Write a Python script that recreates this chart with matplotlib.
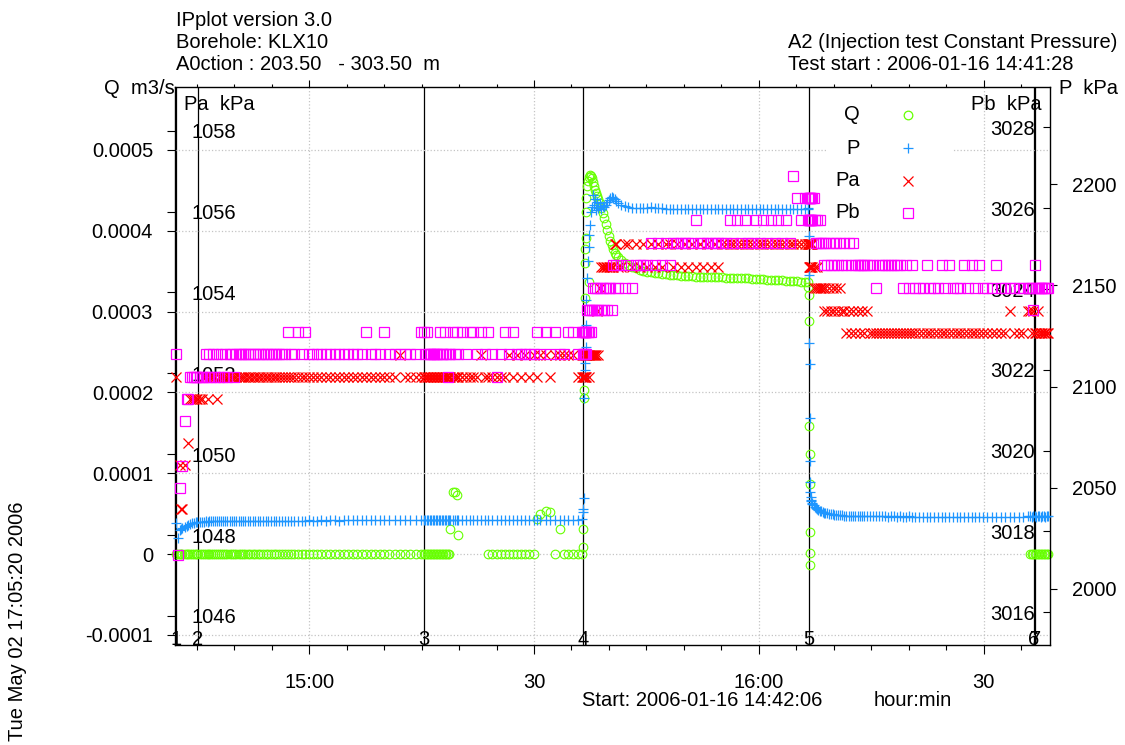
import matplotlib
matplotlib.use("Agg")
import matplotlib.pyplot as plt
import matplotlib.transforms as mtransforms
from matplotlib.lines import Line2D
from matplotlib.patches import Rectangle

nan = float("nan")

# ---------------- data (time = minutes after 2006-01-16 14:42:06) ----------------
x_major = [17.9, 47.9, 77.9, 107.9]
x_labels = ["15:00", "30", "16:00", "30"]
q_ticks = [-0.0001, 0.0, 0.0001, 0.0002, 0.0003, 0.0004, 0.0005]
q_labels = ["-0.0001", "0", "0.0001", "0.0002", "0.0003", "0.0004", "0.0005"]
pa_ticks = [1046, 1048, 1050, 1052, 1054, 1056, 1058]
pb_ticks = [3016, 3018, 3020, 3022, 3024, 3026, 3028]
p_ticks = [2000, 2050, 2100, 2150, 2200]
events_t = [0.1, 3.07, 33.2, 54.45, 84.6, 114.56, 114.78]
events_lab = ["1", "2", "3", "4", "5", "6", "7"]

# phase A (start -> event 2)
t_a = [0.1, 0.4, 0.67, 0.85, 1.0, 1.33, 1.55, 1.73, 2.0, 2.25, 2.5, 2.75, 3.0]
q_a = [0, 0, 0, 0, 0, 0, 0, 0, 0, 0, 0, 0, 0]
p_a = [2032.5, 2025.1, 2029.0, 2029.8, 2030.2, 2030.5, 2031.2, 2031.6, 2032.0, 2032.4, 2032.7, 2033.0, 2033.1]
pa_a = [1051.91, nan, 1049.74, 1048.64, 1048.64, 1049.74, nan, 1050.28, 1051.37, 1051.37, 1051.37, 1051.37, 1051.37]
pb_a = [3022.40, 3017.42, 3019.08, nan, 3019.62, 3020.74, 3021.29, 3021.29, 3021.83, 3021.83, 3021.83, 3021.83, 3021.83]

# phase B (event 2 -> event 3)
t_b = [3.35, 3.6, 3.85, 4.1, 4.35, 4.6, 4.85, 5.1, 5.35, 5.6,
       5.85, 6.1, 6.4, 6.7, 7.0, 7.3, 7.6, 7.9, 8.2, 8.5,
       8.8, 9.1, 9.4, 9.7, 10.0, 10.35, 10.7, 11.05, 11.4, 11.75,
       12.1, 12.45, 12.8, 13.15, 13.5, 13.9, 14.3, 14.7, 15.1, 15.5,
       15.9, 16.4, 16.9, 17.4, 17.9, 18.4, 18.9, 19.5, 20.1, 20.7,
       21.3, 21.9, 22.5, 23.1, 23.7, 24.3, 24.9, 25.5, 26.1, 26.7,
       27.3, 27.9, 28.6, 29.3, 30.0, 30.7, 31.4, 32.1, 32.8]
q_b = [0, 0, 0, 0, 0, 0, 0, 0, 0, 0,
       0, 0, 0, 0, 0, 0, 0, 0, 0, 0,
       0, 0, 0, 0, 0, 0, 0, 0, 0, 0,
       0, 0, 0, 0, 0, 0, 0, 0, 0, 0,
       0, 0, 0, 0, 0, 0, 0, 0, 0, 0,
       0, 0, 0, 0, 0, 0, 0, 0, 0, 0,
       0, 0, 0, 0, 0, 0, 0, 0, 0]
p_b = [2033.1, 2033.2, 2033.2, 2033.3, 2033.2, 2033.3, 2033.3, 2033.3, 2033.4, 2033.3,
       2033.4, 2033.4, 2033.4, 2033.4, 2033.5, 2033.4, 2033.5, 2033.5, 2033.4, 2033.5,
       2033.5, 2033.5, 2033.6, 2033.5, 2033.5, 2033.6, 2033.5, 2033.6, 2033.6, 2033.5,
       2033.6, 2033.6, 2033.6, 2033.7, 2033.6, 2033.6, 2033.7, 2033.6, 2033.7, 2033.7,
       2033.6, 2033.7, 2033.7, 2033.7, 2033.8, 2033.7, 2033.7, 2033.8, 2033.7, 2033.8,
       2033.8, 2033.7, 2033.8, 2033.8, 2033.9, 2033.8, 2033.8, 2033.9, 2033.8, 2034.0,
       2033.9, 2033.9, 2034.0, 2033.9, 2034.0, 2034.0, 2033.9, 2034.0, 2034.0]
pa_b = [1051.37, 1051.37, 1051.91, 1051.91, 1051.37, 1051.91, 1051.91, 1051.91, 1051.91, 1051.37,
        1051.91, 1051.91, 1051.91, 1051.91, 1051.91, 1051.91, 1051.91, 1051.91, 1051.91, 1051.91,
        1051.91, 1051.91, 1051.91, 1051.91, 1051.91, 1051.91, 1051.91, 1051.91, 1051.91, 1051.91,
        1051.91, 1051.91, 1051.91, 1051.91, 1051.91, 1051.91, 1051.91, 1051.91, 1051.91, 1051.91,
        1051.91, 1051.91, 1051.91, 1051.91, 1051.91, 1051.91, 1051.91, 1051.91, 1051.91, 1051.91,
        1051.91, 1051.91, 1051.91, 1051.91, 1051.91, 1051.91, 1051.91, 1051.91, 1051.91, 1051.91,
        1051.91, 1051.91, 1051.91, 1051.91, 1052.46, 1051.91, 1051.91, 1051.91, 1051.91]
pb_b = [3021.83, 3021.83, 3021.83, 3022.40, 3021.83, 3022.40, 3021.83, 3022.40, 3021.83, 3022.40,
        3021.83, 3022.40, 3021.83, 3022.40, 3021.83, 3022.40, 3022.40, 3021.83, 3022.40, 3022.40,
        3022.40, 3022.40, 3022.40, 3022.40, 3022.40, 3022.40, 3022.40, 3022.40, 3022.40, 3022.40,
        3022.40, 3022.40, 3022.40, 3022.40, 3022.40, 3022.40, 3022.40, 3022.40, 3022.93, 3022.40,
        3022.40, 3022.93, 3022.40, 3022.93, 3022.40, 3022.40, 3022.40, 3022.40, 3022.40, 3022.40,
        3022.40, 3022.40, 3022.40, 3022.40, 3022.40, 3022.40, 3022.40, 3022.93, 3022.40, 3022.40,
        3022.40, 3022.93, 3022.40, 3022.40, 3022.40, 3022.40, 3022.40, 3022.40, 3022.93]

# phase C (event 3 -> event 4)
t_c = [33.2, 33.4, 33.6, 33.8, 34.0, 34.2, 34.4, 34.6, 34.8, 35.0,
       35.2, 35.4, 35.6, 35.8, 36.0, 36.2, 36.4, 36.6, 36.75, 37.1,
       37.35, 37.6, 37.8, 38.3, 38.8, 39.3, 39.8, 40.3, 40.8, 41.3,
       41.8, 42.35, 42.9, 43.45, 44.0, 44.55, 45.1, 45.65, 46.2, 46.75,
       47.3, 47.85, 48.3, 48.75, 49.45, 50.05, 50.7, 51.35, 51.85, 52.5,
       53.15, 53.8, 54.3]
q_c = [0, 0, 0, 0, 0, 0, 0, 0, 0, 0,
       0, 0, 0, 0, 0, 0, 0, 0, 3.1e-5, 7.7e-5,
       7.7e-5, 7.32e-5, 2.4e-5, nan, nan, nan, nan, nan, nan, nan,
       0, 0, 0, 0, 0, 0, 0, 0, 0, 0,
       0, 0, 4.32e-5, 4.97e-5, 5.38e-5, 5.26e-5, 0, 3.08e-5, 0, 0,
       0, 0, 0]
p_c = [2033.8, 2033.9, 2033.8, 2033.8, 2033.9, 2033.8, 2033.9, 2033.8, 2033.8, 2033.9,
       2033.8, 2033.9, 2033.8, 2033.8, 2033.9, 2033.8, 2033.9, 2033.8, 2033.8, 2033.9,
       2033.8, 2033.8, 2033.9, 2033.8, 2033.9, 2033.9, 2033.8, 2033.9, 2033.9, 2033.8,
       2033.9, 2033.9, 2033.8, 2033.9, 2033.9, 2034.0, 2033.9, 2033.9, 2034.0, 2033.9,
       2034.0, 2033.9, 2034.0, 2033.9, 2034.0, 2034.0, 2034.0, 2034.1, 2034.0, 2034.1,
       2034.1, 2034.2, 2034.3]
pa_c = [1051.91, 1051.91, 1051.91, 1051.91, 1051.91, 1051.91, 1051.91, 1051.91, 1051.91, 1051.91,
        1051.91, 1051.91, 1051.91, 1051.91, 1051.91, 1051.91, 1051.91, 1051.91, 1051.91, 1051.91,
        1051.91, 1051.91, 1051.91, 1051.91, 1051.91, 1051.91, 1051.91, 1051.91, 1052.46, 1051.91,
        1051.91, 1051.91, 1051.91, 1051.91, 1051.91, 1052.46, 1051.91, 1052.46, 1051.91, 1052.46,
        1051.91, 1052.46, 1051.91, 1052.46, 1052.46, 1051.91, 1052.46, 1052.46, 1052.46, 1052.46,
        1052.46, 1051.91, 1051.91]
pb_c = [3022.93, 3022.40, 3022.93, 3022.40, 3022.40, 3022.40, 3022.40, 3022.40, 3022.40, 3022.40,
        3022.40, 3022.93, 3022.40, 3022.40, 3022.93, 3022.40, 3021.83, 3022.40, 3022.40, 3022.93,
        3022.40, 3022.93, 3022.40, 3022.93, 3022.40, 3022.93, 3022.93, 3022.40, 3022.93, 3022.40,
        3022.93, 3022.40, 3021.83, 3022.40, 3022.93, 3022.40, 3022.93, 3022.40, 3022.40, 3022.40,
        3022.40, 3022.40, 3022.93, 3022.40, 3022.93, 3022.40, 3022.93, 3022.40, 3022.40, 3022.93,
        3022.93, 3022.40, 3022.93]

# phase D1 (injection start transient)
t_d1 = [54.45, 54.5, 54.55, 54.6, 54.65, 54.7, 54.75, 54.8, 54.85, 54.9,
        55.0, 55.1, 55.2, 55.3, 55.4, 55.5, 55.6, 55.75, 55.9, 56.05,
        56.2, 56.35, 56.5, 56.7, 56.9, 57.1, 57.3, 57.5, 57.7, 57.9,
        58.1, 58.3, 58.5, 58.7, 58.9, 59.1]
q_d1 = [8.9e-6, 3.1e-5, 1.93e-4, 2.03e-4, 3.17e-4, 3.60e-4, 3.78e-4, 3.91e-4, 4.23e-4, 4.41e-4,
        4.55e-4, 4.62e-4, 3.37e-4, 4.66e-4, 4.69e-4, 4.68e-4, 4.65e-4, 4.60e-4, 4.55e-4, 4.51e-4,
        4.47e-4, 4.43e-4, 4.39e-4, 4.34e-4, 4.28e-4, 4.22e-4, 4.16e-4, 4.09e-4, 4.01e-4, 3.94e-4,
        3.88e-4, 3.82e-4, 3.77e-4, 3.73e-4, 3.70e-4, 3.67e-4]
p_d1 = [2037.9, 2039.4, 2044.9, 2094.3, 2111.6, 2104.7, 2108.0, 2119.5, 2130.4, 2142.7,
        2153.7, 2162.0, 2169.0, 2174.9, 2179.8, 2186.3, 2189.0, 2194.7, 2190.0, 2192.5,
        2187.5, 2191.0, 2188.5, 2190.5, 2188.0, 2189.5, 2189.0, 2190.0, 2191.0, 2192.0,
        2193.0, 2193.7, 2193.2, 2192.5, 2191.5, 2190.5]
pa_d1 = [1051.91, 1052.46, 1051.91, 1052.46, 1051.91, 1052.46, 1051.91, 1052.46, 1052.46, 1051.91,
         1052.46, 1052.46, 1051.91, 1052.46, 1052.46, 1052.46, 1052.46, 1052.46, 1052.46, 1052.46,
         1052.46, 1053.55, 1052.46, 1054.10, 1054.64, 1054.64, 1054.64, 1054.64, 1054.64, 1054.64,
         1054.64, 1054.64, 1054.64, 1055.19, 1055.19, 1054.64]
pb_d1 = [3022.93, 3022.40, 3022.93, 3022.40, 3022.93, 3022.93, 3022.40, 3022.93, 3022.93, 3022.40,
         3023.48, 3022.93, 3023.48, 3022.93, 3023.48, 3022.93, 3023.48, 3024.03, 3023.48, 3024.03,
         3023.48, 3024.03, 3023.48, 3024.03, 3023.48, 3024.03, 3023.48, 3024.03, 3023.48, 3024.03,
         3024.03, 3023.48, 3024.60, 3024.03, 3024.60, 3024.03]

# phase D2 (constant pressure injection)
t_d2 = [59.5, 60.0, 60.5, 61.0, 61.5, 62.0, 62.5, 63.0, 63.5, 64.0,
        64.5, 65.0, 65.5, 66.0, 66.5, 67.0, 67.5, 68.0, 68.5, 69.0,
        69.5, 70.0, 70.5, 71.0, 71.5, 72.0, 72.5, 73.0, 73.5, 74.0,
        74.5, 75.0, 75.5, 76.0, 76.5, 77.0, 77.5, 78.0, 78.5, 79.0,
        79.5, 80.0, 80.5, 81.0, 81.5, 82.0, 82.5, 83.0, 83.5, 84.0,
        84.4]
q_d2 = [3.64e-4, 3.60e-4, 3.575e-4, 3.555e-4, 3.535e-4, 3.515e-4, 3.505e-4, 3.496e-4, 3.488e-4, 3.481e-4,
        3.474e-4, 3.468e-4, 3.462e-4, 3.457e-4, 3.452e-4, 3.448e-4, 3.444e-4, 3.441e-4, 3.438e-4, 3.436e-4,
        3.434e-4, 3.432e-4, 3.431e-4, 3.429e-4, 3.428e-4, 3.426e-4, 3.425e-4, 3.423e-4, 3.422e-4, 3.421e-4,
        3.419e-4, 3.418e-4, 3.416e-4, 3.413e-4, 3.410e-4, 3.407e-4, 3.404e-4, 3.401e-4, 3.398e-4, 3.396e-4,
        3.394e-4, 3.391e-4, 3.389e-4, 3.386e-4, 3.383e-4, 3.380e-4, 3.378e-4, 3.375e-4, 3.372e-4, 3.369e-4,
        3.366e-4]
p_d2 = [2189.8, 2189.2, 2188.8, 2188.5, 2188.3, 2188.2, 2188.1, 2188.3, 2188.6, 2188.5,
        2188.3, 2188.1, 2188.0, 2188.0, 2187.9, 2187.9, 2188.0, 2187.8, 2187.9, 2187.8,
        2187.8, 2187.9, 2187.8, 2187.7, 2187.8, 2187.7, 2187.7, 2187.8, 2187.7, 2187.7,
        2187.6, 2187.7, 2187.7, 2187.6, 2187.7, 2187.6, 2187.6, 2187.7, 2187.6, 2187.6,
        2187.7, 2187.6, 2187.6, 2187.7, 2187.7, 2187.8, 2187.8, 2187.9, 2188.0, 2188.0,
        2188.1]
pa_d2 = [1054.64, 1055.19, 1055.19, 1054.64, 1055.19, 1054.64, 1055.19, 1054.64, 1055.19, 1054.64,
         1055.19, 1054.64, 1055.19, 1055.19, 1054.64, 1055.19, 1054.64, 1055.19, 1054.64, 1055.19,
         1054.64, 1055.19, 1054.64, 1055.19, 1054.64, 1055.19, 1054.64, 1055.19, 1055.19, 1055.19,
         1055.19, 1055.19, 1055.19, 1055.19, 1055.19, 1055.19, 1055.19, 1055.19, 1055.19, 1055.19,
         1055.19, 1055.19, 1055.19, 1055.19, 1055.19, 1055.19, 1055.19, 1055.19, 1055.19, 1055.19,
         1055.19]
pb_d2 = [3024.60, 3024.03, 3024.60, 3024.03, 3024.60, 3024.60, 3024.60, 3024.60, 3025.14, 3024.60,
         3025.14, 3024.60, 3025.14, 3024.60, 3025.14, 3025.14, 3025.14, 3025.14, 3025.14, 3025.14,
         3025.70, 3025.14, 3025.14, 3025.14, 3025.14, 3025.14, 3025.14, 3025.14, 3025.14, 3025.70,
         3025.14, 3025.70, 3025.14, 3025.70, 3025.14, 3025.14, 3025.70, 3025.14, 3025.70, 3025.14,
         3025.70, 3025.14, 3025.70, 3025.14, 3025.70, 3025.14, 3026.80, 3026.25, 3025.70, 3026.25,
         3025.70]

# phase E1 (injection stop transient)
t_e1 = [84.5, 84.55, 84.6, 84.65, 84.7, 84.72, 84.74, 84.76, 84.78]
q_e1 = [3.31e-4, 3.21e-4, 2.88e-4, 1.59e-4, 1.24e-4, 8.68e-5, 2.75e-5, 1.5e-6, -1.34e-5]
p_e1 = [2187.7, 2174.4, 2155.1, 2121.5, 2111.1, 2084.4, 2063.2, 2052.8, 2047.8]
pa_e1 = [1055.19, 1055.19, 1054.64, 1055.19, 1054.64, 1054.64, 1055.19, 1054.64, 1055.19]
pb_e1 = [3026.25, 3025.70, 3026.25, 3025.70, 3026.25, 3025.70, 3026.25, 3025.70, 3026.25]

# phase E2 (recovery, no flow logged)
t_e2 = [84.8, 84.85, 84.9, 84.95, 85.05, 85.2, 85.35, 85.5, 85.65, 85.8,
        86.0, 86.2, 86.4, 86.6, 86.8, 87.0, 87.25, 87.5, 87.75, 88.0,
        88.25, 88.5, 88.75, 89.0, 89.3, 89.6, 89.9, 90.2, 90.5, 90.8,
        91.1, 91.4, 91.7, 92.0, 92.4, 92.8, 93.2, 93.6, 94.0, 94.4,
        94.8, 95.2, 95.6, 96.0, 96.4, 96.8, 97.2, 97.6, 98.0, 98.4,
        98.8, 99.3, 99.8, 100.3, 100.8, 101.3, 101.8, 102.3, 102.8, 103.3,
        103.8, 104.3, 104.8, 105.3, 105.8, 106.3, 106.8, 107.3, 107.8, 108.4,
        109.0, 109.6, 110.2, 110.8, 111.4, 112.0, 112.6, 113.2, 113.8]
p_e2 = [2045.4, 2044.0, 2043.2, 2042.6, 2042.0, 2041.2, 2040.6, 2040.0, 2039.5, 2039.1,
        2038.7, 2038.3, 2038.0, 2037.7, 2037.5,
        2037.3, 2037.1, 2036.9, 2036.8, 2036.7, 2036.6, 2036.5, 2036.4,
        2036.3, 2036.2, 2036.2, 2036.1, 2036.1, 2036.0, 2036.0, 2036.0, 2035.9, 2035.9, 2035.9,
        2035.9, 2035.8, 2035.9, 2035.8, 2035.8, 2035.9, 2035.8, 2035.7, 2035.8, 2035.8,
        2035.7, 2035.8, 2035.7, 2035.7, 2035.8, 2035.7, 2035.7,
        2035.6, 2035.7, 2035.6, 2035.7, 2035.6, 2035.6, 2035.5, 2035.6, 2035.6, 2035.5,
        2035.6, 2035.5, 2035.5, 2035.6, 2035.5, 2035.5, 2035.6, 2035.5,
        2035.5, 2035.6, 2035.5, 2035.6, 2035.6, 2035.7, 2035.6, 2035.7, 2035.7, 2035.8]
pa_e2 = [1055.19, 1054.64, 1055.19, 1054.64, 1055.19, 1054.10, 1054.64, 1054.10, 1054.64, 1054.10,
         1054.10, 1054.10, 1054.10, 1053.55, 1054.10,
         1053.55, 1054.10, 1053.55, 1054.10, 1053.55, 1054.10, 1053.55, 1054.10,
         1053.55, 1053.55, 1053.00, 1053.55, 1053.00, 1053.55, 1053.00, 1053.55, 1053.00, 1053.55, 1053.00,
         1053.55, 1053.00, 1053.00, 1053.00, 1053.00, 1053.00, 1053.00, 1053.00, 1053.00, 1053.00,
         1053.00, 1053.00, 1053.00, 1053.00, 1053.00, 1053.00, 1053.00,
         1053.00, 1053.00, 1053.00, 1053.00, 1053.00, 1053.00, 1053.00, 1053.00, 1053.00, 1053.00,
         1053.00, 1053.00, 1053.00, 1053.00, 1053.00, 1053.00, 1053.00, 1053.00,
         1053.00, 1053.00, 1053.00, 1053.00, 1053.00, 1053.55, 1053.00, 1053.00, 1053.00, 1053.55]
pb_e2 = [3025.70, 3026.25, 3025.70, 3026.25, 3025.70, 3026.25, 3025.70, 3025.14, 3025.70, 3025.14,
         3025.70, 3025.14, 3025.14, 3024.60, 3025.14,
         3024.60, 3025.14, 3024.60, 3025.14, 3024.60, 3025.14, 3024.60, 3025.14,
         3024.60, 3025.14, 3024.60, 3025.14, 3024.60, 3025.14, 3024.60, 3024.60, 3024.60, 3024.60, 3024.60,
         3024.60, 3024.60, 3024.60, 3024.03, 3024.60, 3024.60, 3024.60, 3024.60, 3024.60, 3024.60,
         3024.60, 3024.60, 3024.03, 3024.60, 3024.03, 3024.60, 3024.03,
         3024.03, 3024.03, 3024.60, 3024.03, 3024.03, 3024.03, 3024.60, 3024.03, 3024.60, 3024.03,
         3024.03, 3024.03, 3024.60, 3024.03, 3024.60, 3024.03, 3024.60, 3024.03,
         3024.03, 3024.03, 3024.60, 3024.03, 3024.03, 3024.03, 3024.03, 3024.03, 3024.03, 3024.03]

# phase E3 (end of test)
t_e3 = [114.1, 114.3, 114.5, 114.7, 114.9, 115.1, 115.3, 115.5, 115.7, 115.9, 116.1, 116.3, 116.5]
q_e3 = [0, 0, 0, 0, 0, 0, 0, 0, 0, 0, 0, 0, 0]
p_e3 = [2035.8, 2035.7, 2035.8, 2035.8, 2035.7, 2035.8, 2035.8, 2035.7, 2035.8, 2035.8, 2035.7, 2035.8, 2035.8]
pa_e3 = [1053.55, 1053.00, 1053.55, 1053.00, 1053.00, 1053.55, 1053.00, 1053.00, 1053.00, 1053.00, 1053.00, 1053.00, 1053.00]
pb_e3 = [3024.03, 3024.03, 3023.48, 3024.60, 3024.03, 3024.03, 3024.03, 3024.03, 3024.03, 3024.03, 3024.03, 3024.03, 3024.03]

q_t = t_a + t_b + t_c + t_d1 + t_d2 + t_e1 + t_e3
q_v = q_a + q_b + q_c + q_d1 + q_d2 + q_e1 + q_e3
all_t = t_a + t_b + t_c + t_d1 + t_d2 + t_e1 + t_e2 + t_e3
p_v = p_a + p_b + p_c + p_d1 + p_d2 + p_e1 + p_e2 + p_e3
pa_v = pa_a + pa_b + pa_c + pa_d1 + pa_d2 + pa_e1 + pa_e2 + pa_e3
pb_v = pb_a + pb_b + pb_c + pb_d1 + pb_d2 + pb_e1 + pb_e2 + pb_e3

# ---------------- styling ----------------
plt.rcParams["font.family"] = ["Liberation Sans", "DejaVu Sans"]
FS = 14.5
Q_C, P_C, PA_C, PB_C = "#66ff00", "#1e96ff", "#ff0000", "#ff00ff"
W, H = 1125.0, 745.0

fig = plt.figure(figsize=(W / 100, H / 100), dpi=100)
L, R, T, B = 175 / W, 1049.5 / W, 1 - 87 / H, 1 - 645 / H
ax = fig.add_axes([L, B, R - L, T - B])
axp = ax.twinx()
axpa = ax.twinx()
axpb = ax.twinx()
for a in (axp, axpa, axpb):
    for s in a.spines.values():
        s.set_visible(False)
for s in ax.spines.values():
    s.set_linewidth(1.0)
    s.set_color("black")

ax.set_xlim(0, 116.69)
ax.set_ylim(-0.0001124, 0.0005779)
axpa.set_ylim(1045.28, 1059.08)
axpb.set_ylim(3015.19, 3029.0)
axp.set_ylim(1972.2, 2248.1)

# x ticks
ax.set_xticks(x_major)
ax.set_xticklabels(x_labels)
ax.set_xticks([17.9 + 5 * k for k in range(-3, 20) if k % 6 != 0], minor=True)
ax.tick_params(axis="x", which="major", direction="out", length=6.5, width=0.8,
               pad=13.5, labelsize=FS, top=False)
ax.tick_params(axis="x", which="minor", direction="out", length=3.6, width=0.8, top=False)
axp.xaxis.set_visible(True)
axp.tick_params(axis="x", which="major", top=True, bottom=False, labeltop=False,
                labelbottom=False, direction="out", length=5, width=0.8)
axp.tick_params(axis="x", which="minor", top=True, bottom=False, labeltop=False,
                labelbottom=False, direction="out", length=2.5, width=0.8)

# Q axis (left, outside)
ax.set_yticks(q_ticks)
ax.set_yticklabels(q_labels)
ax.tick_params(axis="y", direction="out", length=5.8, width=0.8, pad=10,
               labelsize=FS, left=True, right=False)
ax.grid(True, which="major", color="#c4c4c4", linestyle=":", linewidth=0.9)

# Pa axis (left, labels inside)
axpa.set_yticks(pa_ticks)
axpa.set_yticklabels([str(v) for v in pa_ticks])
axpa.tick_params(axis="y", left=True, right=False, labelleft=True, labelright=False,
                 direction="out", length=5.8, width=0.8, pad=-18, labelsize=FS)
for lab in axpa.get_yticklabels():
    lab.set_horizontalalignment("left")

# Pb axis (right, ticks and labels inside)
axpb.set_yticks(pb_ticks)
axpb.set_yticklabels([str(v) for v in pb_ticks])
axpb.tick_params(axis="y", left=False, right=True, labelleft=False, labelright=True,
                 direction="in", length=5, width=0.8, pad=-10.8, labelsize=FS)
for lab in axpb.get_yticklabels():
    lab.set_horizontalalignment("right")

# P axis (right, outside)
axp.set_yticks(p_ticks)
axp.set_yticklabels([str(v) for v in p_ticks])
axp.tick_params(axis="y", left=False, right=True, labelleft=False, labelright=True,
                direction="out", length=5, width=0.8, pad=11.5, labelsize=FS)

# event lines & numbers
btrans = mtransforms.blended_transform_factory(ax.transData, ax.transAxes)
for et, el in zip(events_t, events_lab):
    ax.axvline(et, color="black", lw=0.9, zorder=1.5)
    ax.text(et, 0.01, el, transform=btrans, ha="center", va="center", fontsize=FS, zorder=6)

# data series
mk = dict(linestyle="none", clip_on=False)
ax.plot(q_t, q_v, marker="o", ms=6.2, mfc="none", mec=Q_C, mew=0.8, **mk)
axp.plot(all_t, p_v, marker="+", ms=7.8, mec=P_C, mew=0.9, **mk)
axpa.plot(all_t, pa_v, marker="x", ms=7, mec=PA_C, mew=0.9, **mk)
axpb.plot(all_t, pb_v, marker="s", ms=6.5, mfc="none", mec=PB_C, mew=0.9, **mk)

# legend
fig.patches.append(Rectangle((827 / W, 1 - 225 / H), 126 / W, 128 / H,
                             transform=fig.transFigure, facecolor="white",
                             edgecolor="none", zorder=1))
leg = [("Q", 115, "o", Q_C, "none", 6.2), ("P", 148, "+", P_C, P_C, 7.8),
       ("Pa", 181, "x", PA_C, PA_C, 7), ("Pb", 213, "s", PB_C, "none", 6.5)]
for name, yy, m, ec, fc, ms in leg:
    fig.text(860 / W, 1 - yy / H, name, ha="right", va="center", fontsize=FS, zorder=3)
    fig.add_artist(Line2D([908 / W], [1 - yy / H], transform=fig.transFigure,
                          marker=m, ms=ms, mec=ec, mfc=fc, mew=0.9,
                          linestyle="none", zorder=3))

# axis titles
fig.text(175 / W, 1 - 88 / H, "Q  m3/s", ha="right", va="center", fontsize=FS)
fig.text(184 / W, 1 - 105 / H, "Pa  kPa", ha="left", va="center", fontsize=FS)
fig.text(1042 / W, 1 - 104 / H, "Pb  kPa", ha="right", va="center", fontsize=FS)
fig.text(1059 / W, 1 - 88 / H, "P  kPa", ha="left", va="center", fontsize=FS)

# header / footer
fig.text(176 / W, 1 - 20 / H, "IPplot version 3.0", ha="left", va="center", fontsize=FS)
fig.text(176 / W, 1 - 42 / H, "Borehole: KLX10", ha="left", va="center", fontsize=FS)
fig.text(176 / W, 1 - 65 / H, "A0ction : 203.50   - 303.50  m", ha="left", va="center", fontsize=FS)
fig.text(788 / W, 1 - 42 / H, "A2 (Injection test Constant Pressure)", ha="left", va="center", fontsize=FS)
fig.text(788 / W, 1 - 65 / H, "Test start : 2006-01-16 14:41:28", ha="left", va="center", fontsize=FS)
fig.text(582 / W, 1 - 701 / H, "Start: 2006-01-16 14:42:06", ha="left", va="center", fontsize=FS)
fig.text(874 / W, 1 - 701 / H, "hour:min", ha="left", va="center", fontsize=FS)
fig.text(18 / W, 1 - 621 / H, "Tue May 02 17:05:20 2006", ha="center", va="center",
         rotation=90, fontsize=FS)

fig.savefig("out.png", dpi=100)
